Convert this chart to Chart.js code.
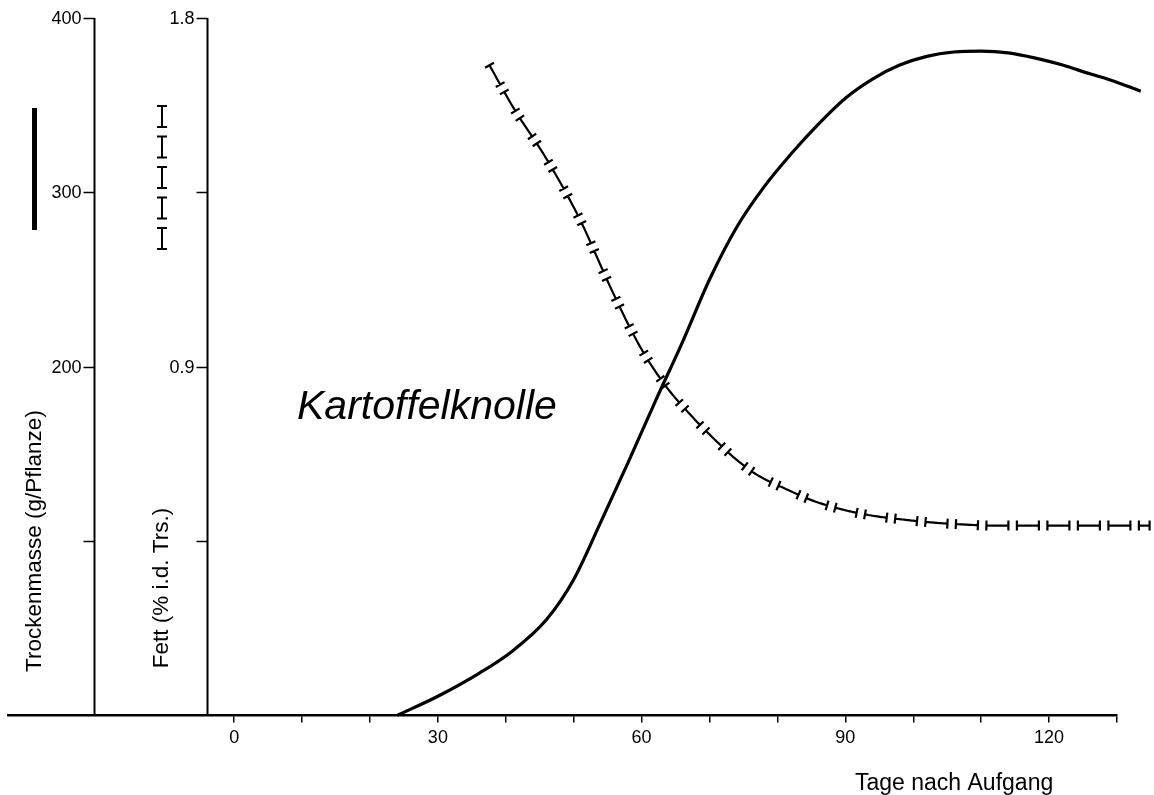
<!DOCTYPE html>
<html>
<head>
<meta charset="utf-8">
<title>Kartoffelknolle</title>
<script src="https://cdn.jsdelivr.net/npm/chart.js@4.4.1/dist/chart.umd.min.js"></script>
<style>
  html, body { margin: 0; padding: 0; background: #fff; }
  #box { width: 1154px; height: 795px; position: relative; }
</style>
</head>
<body>
<div id="box"><canvas id="knolleChart"></canvas></div>
<script>
// Tage nach Aufgang / Trockenmasse (g/Pflanze)
var massDays = [24, 30, 36, 41, 46, 50, 54, 58, 62, 66, 70, 74, 78, 82, 86, 90, 94, 98, 102, 106, 110, 114, 118, 122, 126, 129, 133.5];
var massValues = [0, 11, 24, 37, 55, 78, 111, 145, 180, 214, 250, 280, 303, 322, 339, 354, 365, 373, 378, 380.5, 381, 380, 377, 373, 368, 364.5, 358];

// Tage nach Aufgang / Fett (% i.d. Trs.)
var fatDays = [37.6, 41.2, 45.9, 50.8, 55.7, 59.6, 63.3, 67.5, 71, 73.7, 76.9, 81.3, 85.1, 89.4, 93.8, 98.2, 102.7, 107.1, 111.5, 120, 134.8];
var fatValues = [1.678, 1.566, 1.439, 1.284, 1.094, 0.957, 0.856, 0.77, 0.708, 0.664, 0.622, 0.584, 0.555, 0.532, 0.516, 0.506, 0.498, 0.493, 0.49, 0.49, 0.49];

// ticks
var xTicks = [0, 10, 20, 30, 40, 50, 60, 70, 80, 90, 100, 110, 120, 130];
var xTickLabels = ['0', '', '', '30', '', '', '60', '', '', '90', '', '', '120', ''];
var massTicks = [0, 100, 200, 300, 400];
var massTickLabels = ['', '', '200', '300', '400'];
var fatTicks = [0, 0.45, 0.9, 1.35, 1.8];
var fatTickLabels = ['', '', '0.9', '', '1.8'];

var FONT = '"Liberation Sans", Arial, Helvetica, sans-serif';

// walk a polyline and draw it as dashes with a cross bar at each end
function drawBeams(ctx, pts, dash, gap, cap) {
    var cum = [0];
    for (var i = 1; i < pts.length; i++) {
        var dx = pts[i].x - pts[i - 1].x, dy = pts[i].y - pts[i - 1].y;
        cum.push(cum[i - 1] + Math.sqrt(dx * dx + dy * dy));
    }
    var total = cum[cum.length - 1];
    function at(s) {
        var k = 1;
        while (k < cum.length - 1 && cum[k] < s) k++;
        var a = pts[k - 1], b = pts[k];
        var len = cum[k] - cum[k - 1] || 1;
        var t = (s - cum[k - 1]) / len;
        return { x: a.x + (b.x - a.x) * t, y: a.y + (b.y - a.y) * t,
                 tx: (b.x - a.x) / len, ty: (b.y - a.y) / len, k: k };
    }
    function bar(p) {
        ctx.moveTo(p.x - p.ty * cap / 2, p.y + p.tx * cap / 2);
        ctx.lineTo(p.x + p.ty * cap / 2, p.y - p.tx * cap / 2);
    }
    ctx.beginPath();
    for (var s = 0; s < total - 4; s += dash + gap) {
        var e = Math.min(s + dash, total);
        var p0 = at(s), p1 = at(e);
        ctx.moveTo(p0.x, p0.y);
        for (var j = p0.k; j < p1.k; j++) ctx.lineTo(pts[j].x, pts[j].y);
        ctx.lineTo(p1.x, p1.y);
        bar(p0);
        bar(p1);
    }
    ctx.stroke();
}

var extras = {
    id: 'extras',
    afterDatasetsDraw: function (chart) {
        var ctx = chart.ctx;
        var meta = chart.getDatasetMeta(1);
        meta.dataset.updateControlPoints(chart.chartArea, 'x');
        var p = meta.data;
        var dense = [{ x: p[0].x, y: p[0].y }];
        for (var i = 0; i < p.length - 1; i++) {
            var a = p[i], b = p[i + 1];
            var c1x = a.cp2x !== undefined ? a.cp2x : a.x, c1y = a.cp2y !== undefined ? a.cp2y : a.y;
            var c2x = b.cp1x !== undefined ? b.cp1x : b.x, c2y = b.cp1y !== undefined ? b.cp1y : b.y;
            for (var n = 1; n <= 20; n++) {
                var t = n / 20, u = 1 - t;
                dense.push({
                    x: u * u * u * a.x + 3 * u * u * t * c1x + 3 * u * t * t * c2x + t * t * t * b.x,
                    y: u * u * u * a.y + 3 * u * u * t * c1y + 3 * u * t * t * c2y + t * t * t * b.y
                });
            }
        }
        ctx.save();
        ctx.strokeStyle = '#000';
        ctx.lineWidth = 2.2;
        ctx.lineCap = 'butt';
        drawBeams(ctx, dense, 22, 8.5, 10);
        ctx.restore();
    },
    afterDraw: function (chart) {
        var ctx = chart.ctx;
        var xs = chart.scales.x, ym = chart.scales.y, yf = chart.scales.y2;
        var area = chart.chartArea;
        ctx.save();
        ctx.strokeStyle = '#000';
        ctx.fillStyle = '#000';

        // two vertical axes inside the plot
        var axes = [
            { scale: ym, at: -20.6, ticks: massTicks, labels: massTickLabels },
            { scale: yf, at: -4, ticks: fatTicks, labels: fatTickLabels }
        ];
        axes.forEach(function (ax) {
            var x = Math.round(xs.getPixelForValue(ax.at)) + 0.5;
            ctx.lineWidth = 2;
            ctx.beginPath();
            ctx.moveTo(x, area.top);
            ctx.lineTo(x, area.bottom);
            ctx.stroke();
            ctx.lineWidth = 1.5;
            ctx.font = '18px ' + FONT;
            ctx.textAlign = 'right';
            ctx.textBaseline = 'middle';
            ax.ticks.forEach(function (v, i) {
                if (v === 0) return;
                var y = Math.round(ax.scale.getPixelForValue(v)) + 0.5;
                ctx.beginPath();
                ctx.moveTo(x - 11, y);
                ctx.lineTo(x, y);
                ctx.stroke();
                if (ax.labels[i]) ctx.fillText(ax.labels[i], x - 13, y + 1);
            });
        });

        // legend keys
        ctx.fillRect(32, 108, 5, 122);
        ctx.lineWidth = 2;
        drawBeams(ctx, [{ x: 162, y: 106 }, { x: 162, y: 249 }], 21, 9.5, 10);

        // axis titles
        ctx.font = '22.5px ' + FONT;
        ctx.textAlign = 'center';
        ctx.textBaseline = 'middle';
        ctx.save();
        ctx.translate(35, 541);
        ctx.rotate(-Math.PI / 2);
        ctx.fillText('Trockenmasse (g/Pflanze)', 0, 0);
        ctx.restore();
        ctx.save();
        ctx.translate(162, 588);
        ctx.rotate(-Math.PI / 2);
        ctx.fillText('Fett (% i.d. Trs.)', 0, 0);
        ctx.restore();

        ctx.textAlign = 'left';
        ctx.textBaseline = 'alphabetic';
        ctx.font = 'italic 41px ' + FONT;
        ctx.fillText('Kartoffelknolle', 297, 419);
        ctx.font = '23px ' + FONT;
        ctx.fillText('Tage nach Aufgang', 855, 790);
        ctx.restore();
    }
};

var ctx = document.getElementById('knolleChart');
var knolleChart = new Chart(ctx, {
    type: 'line',
    data: {
        datasets: [{
            label: 'Trockenmasse (g/Pflanze)',
            data: massDays.map(function (d, i) { return { x: d, y: massValues[i] }; }),
            yAxisID: 'y',
            borderColor: '#000',
            borderWidth: 3.2,
            pointRadius: 0,
            cubicInterpolationMode: 'monotone',
            capBezierPoints: false,
            clip: false
        }, {
            label: 'Fett (% i.d. Trs.)',
            data: fatDays.map(function (d, i) { return { x: d, y: fatValues[i] }; }),
            yAxisID: 'y2',
            borderColor: 'rgba(0,0,0,0)',
            borderWidth: 0,
            pointRadius: 0,
            cubicInterpolationMode: 'monotone',
            capBezierPoints: false,
            clip: false
        }]
    },
    options: {
        responsive: true,
        maintainAspectRatio: false,
        animation: false,
        layout: { padding: { left: 8, right: 37, top: 18, bottom: 41 } },
        plugins: {
            legend: { display: false },
            tooltip: { enabled: false }
        },
        scales: {
            x: {
                type: 'linear',
                min: -33.3,
                max: 130,
                afterBuildTicks: function (scale) {
                    scale.ticks = xTicks.map(function (v) { return { value: v }; });
                },
                ticks: {
                    color: '#000',
                    font: { family: FONT, size: 18 },
                    padding: 5,
                    maxRotation: 0,
                    autoSkip: false,
                    callback: function (value) {
                        var i = xTicks.indexOf(value);
                        return i >= 0 ? xTickLabels[i] : '';
                    }
                },
                grid: { drawOnChartArea: false, drawTicks: true, tickLength: 7, color: '#000', lineWidth: 1.5 },
                border: { display: true, color: '#000', width: 2.5 }
            },
            y: { display: false, min: 0, max: 400 },
            y2: { display: false, min: 0, max: 1.8 }
        }
    },
    plugins: [extras]
});
</script>
</body>
</html>
